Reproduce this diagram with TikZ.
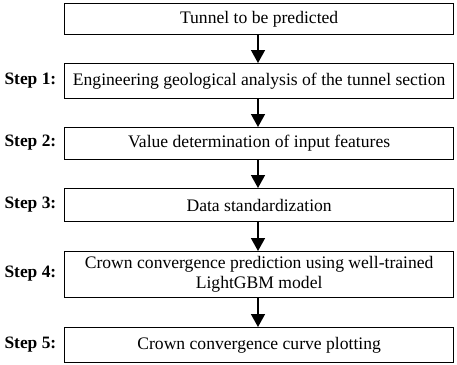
\documentclass[tikz,border=0pt]{standalone}
\usepackage{fontspec}
\setmainfont{Liberation Serif}
\usetikzlibrary{arrows.meta}
\begin{document}
\begin{tikzpicture}[x=1pt,y=-1pt,
  box/.style={draw,line width=1.3pt,minimum width=389pt,inner sep=0pt,align=center,font=\fontsize{17.6}{20}\selectfont,anchor=north west},
  lab/.style={font=\fontsize{17.4}{20}\selectfont\bfseries,anchor=west},
  arr/.style={-{Triangle[length=13pt,width=14pt]},line width=1.5pt}]
\useasboundingbox (0,0) rectangle (457,364);
\node[box,minimum height=31pt] (b0) at (64,3) {Tunnel to be predicted};
\node[box,minimum height=35pt] (b1) at (64,63) {Engineering geological analysis of the tunnel section};
\node[box,minimum height=32pt] (b2) at (64,127) {Value determination of input features};
\node[box,minimum height=33pt] (b3) at (64,188) {Data standardization};
\node[box,minimum height=46pt] (b4) at (64,251) {Crown convergence prediction using well-trained\\LightGBM model};
\node[box,minimum height=35pt] (b5) at (64,327) {Crown convergence curve plotting};
\node[lab] (l1) at (1,80.5) {Step 1:};
\node[lab] (l2) at (1,143) {Step 2:};
\node[lab] (l3) at (1,204.5) {Step 3:};
\node[lab] (l4) at (1,274) {Step 4:};
\node[lab] (l5) at (1,344.5) {Step 5:};
\draw[arr] (b0.south -| 258,0) -- (b1.north -| 258,0);
\draw[arr] (b1.south -| 258,0) -- (b2.north -| 258,0);
\draw[arr] (b2.south -| 258,0) -- (b3.north -| 258,0);
\draw[arr] (b3.south -| 258,0) -- (b4.north -| 258,0);
\draw[arr] (b4.south -| 258,0) -- (b5.north -| 258,0);
\end{tikzpicture}
\end{document}
